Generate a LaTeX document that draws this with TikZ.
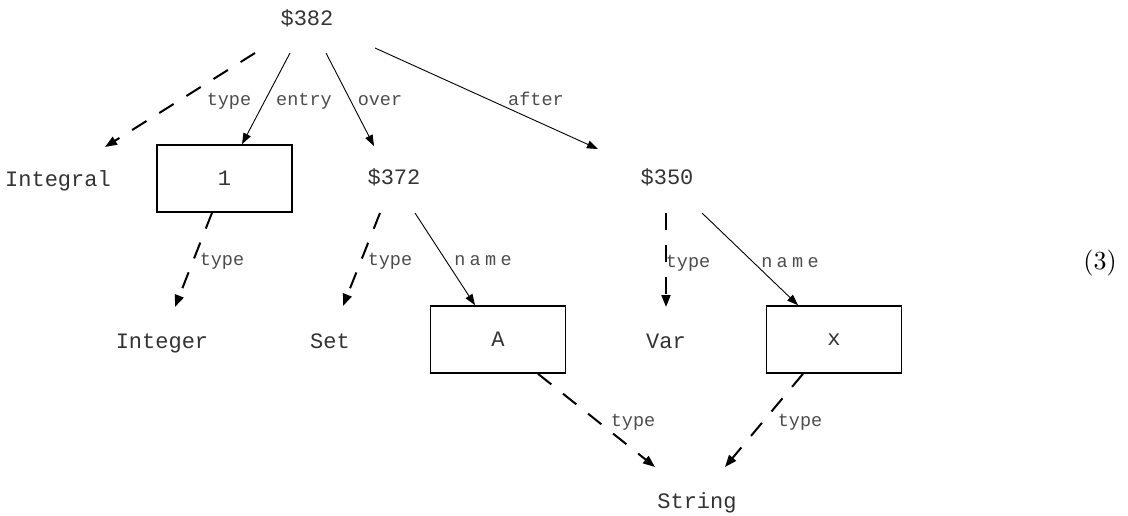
\documentclass[tikz,border=0pt]{standalone}
\usepackage{fontspec}
\newfontfamily\mono{Liberation Mono}
\newfontfamily\lmten{lmroman10-regular.otf}
\usetikzlibrary{arrows.meta,calc}
\begin{document}
\begin{tikzpicture}[x=1pt,y=-1pt,
  txt/.style={font=\mono\fontsize{22}{26}\selectfont, anchor=base, inner sep=0, text=black!80},
  lbl/.style={font=\mono\fontsize{18.5}{22}\selectfont, anchor=base, inner sep=0, text=black!70},
  box/.style={draw, line width=1.6pt, minimum width=135pt, minimum height=67pt, inner sep=0, font=\mono\fontsize{22}{26}\selectfont, text=black!80},
  sol/.style={line width=0.9pt, -{Triangle[length=11pt,width=8pt]}},
  dsh/.style={line width=2pt, dash pattern=on 17pt off 15pt, -{Triangle[length=12pt,width=9pt]}}]
\useasboundingbox (0,0) rectangle (1128,515);
% nodes
\node[txt] (n382) at (307,25) {\$382};
\node[txt] (integral) at (58,186) {Integral};
\node[box] (box1) at (224.5,178.5) {1};
\node[txt] (n372) at (394,184) {\$372};
\node[txt] (n350) at (667,184) {\$350};
\node[txt] (integer) at (162,348) {Integer};
\node[txt] (set) at (330,348) {Set};
\node[box] (boxA) at (498,339.5) {A};
\node[txt] (var) at (666,348) {Var};
\node[box] (boxX) at (834,339.5) {x};
\node[txt] (string) at (697,508) {String};
\node[font=\lmten\fontsize{26}{30}\selectfont, anchor=base, inner sep=0] (eqno) at (1100,269) {(3)};
% connectors
\draw[dsh] ($(n382.base)+(-52,28)$) -- ($(integral.base)+(47,-39)$);
\draw[sol] ($(n382.base)+(-17,28)$) -- ($(box1.north)+(17.5,0)$);
\draw[sol] ($(n382.base)+(19,28)$) -- ($(n372.base)+(-20,-38)$);
\draw[sol] ($(n382.base)+(68,23)$) -- ($(n350.base)+(-69,-35)$);
\draw[dsh] ($(box1.south)+(-12.5,0)$) -- ($(integer.base)+(13,-41)$);
\draw[dsh] ($(n372.base)+(-14,29)$) -- ($(set.base)+(13,-42)$);
\draw[sol] ($(n372.base)+(21,29)$) -- ($(boxA.north)+(-23,0)$);
\draw[dsh] ($(n350.base)+(-1,29)$) -- ($(var.base)+(0,-41)$);
\draw[sol] ($(n350.base)+(35,29)$) -- ($(boxX.north)+(-36,0)$);
\draw[dsh] ($(boxA.south)+(40,0)$) -- ($(string.base)+(-42,-41)$);
\draw[dsh] ($(boxX.south)+(-31,0)$) -- ($(string.base)+(28,-41)$);
% labels
\node[lbl] (l1) at (229,105) {type};
\node[lbl] (l2) at (304,105) {entry};
\node[lbl] (l3) at (380,105) {over};
\node[lbl] (l4) at (536,105) {after};
\node[lbl] (l5) at (222,265) {type};
\node[lbl] (l6) at (390,265) {type};
\node[lbl] (l7) at (483,265) {n\kern4.3pt a\kern4.3pt m\kern4.3pt e};
\node[lbl] (l8) at (688,267) {type};
\node[lbl] (l9) at (790,267) {n\kern4.3pt a\kern4.3pt m\kern4.3pt e};
\node[lbl] (l10) at (633,426) {type};
\node[lbl] (l11) at (800,426) {type};
\end{tikzpicture}
\end{document}
